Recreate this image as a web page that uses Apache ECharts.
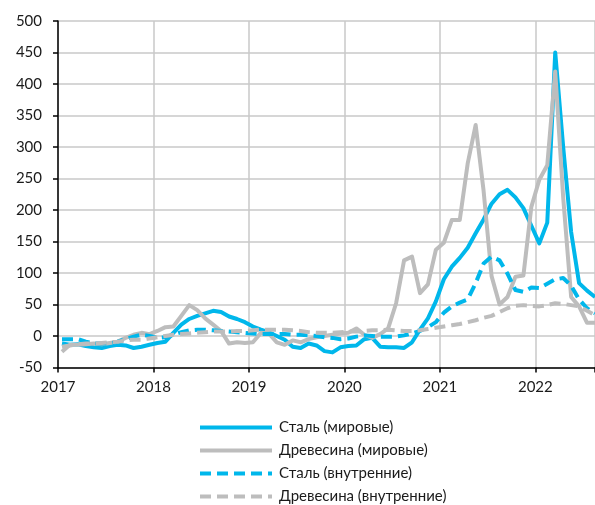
<!DOCTYPE html>
<html><head><meta charset="utf-8">
<script src="https://cdn.jsdelivr.net/npm/echarts@6/dist/echarts.min.js"></script>
<style>html,body{margin:0;padding:0;background:#fff}#c{width:595px;height:505px}</style>
</head><body><div id="c"></div>
<script>
// Monthly data, Jan 2017 .. Aug 2022
const startYear = 2017;
const yearLabels = ['2017','2018','2019','2020','2021','2022'];
const seriesNames = ['Сталь (мировые)','Древесина (мировые)','Сталь (внутренние)','Древесина (внутренние)'];
const steelWorld = [-12,-14,-13,-16,-18,-19,-16,-14,-15,-19,-17,-14,
  -11,-9,5,18,27,32,36,40,38,31,27,22,
  15,10,6,0,-6,-17,-19,-12,-15,-24,-26,-18,
  -16,-15,-5,-3,-17,-18,-18,-19,-10,10,28,55,
  90,110,124,140,163,185,210,225,232,220,203,175,
  147,180,450,300,165,84,72,62];
const woodWorld = [-25,-14,-14,-13,-12,-13,-11,-9,-3,2,5,3,
  8,14,15,32,49,41,28,18,8,-12,-10,-11,
  -10,5,4,-10,-14,-7,-10,-5,-2,0,2,4,
  5,12,2,-3,3,12,52,120,126,68,82,137,
  148,184,184,274,335,230,95,50,62,94,96,205,
  248,271,420,220,62,47,21,21];
const steelDomestic = [-5,-5,-5,-9,-12,-12,-12,-9,-5,-1,2,0,
  -3,-2,2,6,9,10,10,9,8,7,6,5,
  4,3,3,3,3,2,2,1,0,-2,-3,-5,
  -4,-1,1,0,-1,-1,-1,1,4,8,14,22,
  37,47,53,58,84,115,126,120,99,73,70,77,
  76,83,90,92,80,58,44,36];
const woodDomestic = [-17,-15,-13,-12,-12,-11,-10,-9,-7,-6,-6,-4,
  -2,0,2,3,4,5,6,7,7,7,8,8,
  9,10,10,10,10,9,8,6,5,5,5,6,
  7,7,8,9,9,10,9,8,8,9,11,13,
  15,17,19,22,25,29,32,38,44,48,49,48,
  47,49,52,51,49,47,40,33];

const BLUE = '#00B7EB', GRAY = '#BDBDBD';
const FONT = 'Lato';
// monthly points placed mid-month on a month-index axis
const toPts = arr => arr.map((v, i) => [i + 0.5, v]);
const nMonths = steelWorld.length;

const chart = echarts.init(document.getElementById('c'), null, {renderer: 'canvas'});
const mk = (name, data, color, dashed) => ({
  name, type: 'line', data: toPts(data), showSymbol: false, symbol: 'none',
  xAxisIndex: 0, yAxisIndex: 0,
  lineStyle: {color, width: 4, type: dashed ? [11, 6] : 'solid', cap: 'butt', join: 'round'},
  itemStyle: {color},
  animation: false
});
chart.setOption({
  animation: false,
  textStyle: {fontFamily: FONT},
  grid: {left: 58, top: 21, right: 0, bottom: 137.5, containLabel: false},
  xAxis: [{
    type: 'value', min: 0, max: nMonths - 0.5, interval: 12,
    axisLine: {show: false}, axisTick: {show: false},
    splitLine: {show: true, lineStyle: {color: '#C8C8C8', width: 1.5}},
    axisLabel: {
      show: true, margin: 12, fontSize: 15, color: '#1a1a1a', fontFamily: FONT,
      showMaxLabel: false,
      formatter: v => (v % 12 === 0 ? yearLabels[v / 12] || '' : '')
    }
  }, {
    type: 'value', min: 0, max: nMonths - 0.5, interval: 12, position: 'bottom',
    axisLine: {show: true, onZero: true, lineStyle: {color: '#000', width: 1.5}},
    axisTick: {show: true, length: 5, lineStyle: {color: '#000', width: 1.5}},
    splitLine: {show: false}, axisLabel: {show: false}
  }],
  yAxis: {
    type: 'value', min: -50, max: 500, interval: 50,
    axisLine: {show: true, lineStyle: {color: '#000', width: 1.5}},
    axisTick: {show: true, length: 5, lineStyle: {color: '#000', width: 1.5}},
    splitLine: {show: true, lineStyle: {color: '#C8C8C8', width: 1.5}},
    axisLabel: {margin: 16, fontSize: 15, color: '#1a1a1a', fontFamily: FONT}
  },
  legend: {
    orient: 'vertical', left: 193, top: 415, height: 200, itemWidth: 72, itemHeight: 14, itemGap: 8,
    itemStyle: {opacity: 0},
    lineStyle: {width: 4},
    textStyle: {fontSize: 15, color: '#1a1a1a', fontFamily: FONT, padding: [0, 0, 0, 2]},
    data: seriesNames
  },
  series: [
    mk(seriesNames[0], steelWorld, BLUE, false),
    mk(seriesNames[1], woodWorld, GRAY, false),
    mk(seriesNames[2], steelDomestic, BLUE, true),
    mk(seriesNames[3], woodDomestic, GRAY, true)
  ]
});
</script></body></html>
